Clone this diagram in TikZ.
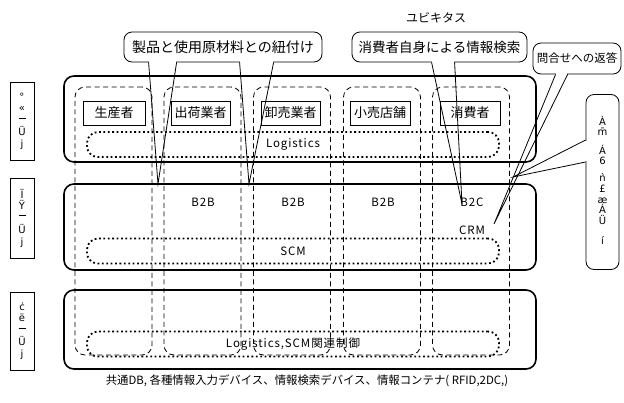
\documentclass[tikz,border=0pt]{standalone}
\usepackage{fontspec}
\setmainfont{Noto Sans CJK JP}
\newfontfamily\latf[LetterSpace=8]{Noto Sans CJK JP}
\newfontfamily\mojif{DejaVu Sans}
\tikzset{
  rowbox/.style={draw, line width=1.6pt, rounded corners=10pt, inner sep=0pt},
  colbox/.style={draw, dash pattern=on 5pt off 3.5pt, line width=0.8pt, rounded corners=10pt, inner sep=0pt, minimum width=77pt, minimum height=268pt},
  dotbox/.style={draw, line width=1.8pt, dash pattern=on 1.8pt off 2.6pt, rounded corners=11pt, inner sep=0pt, minimum width=412pt, minimum height=25pt, font=\latf\fontsize{11.5}{12}\selectfont},
  actor/.style={draw, fill=white, line width=1pt, inner sep=0pt, minimum height=24pt, font=\fontsize{13}{13}\selectfont},
  lat/.style={inner sep=0pt, font=\latf\fontsize{11.5}{12}\selectfont},
  callout/.style={draw, fill=white, line width=0.8pt, rounded corners=8pt, inner sep=0pt},
  spike/.style={line width=0.8pt},
  erase/.style={white, line width=2pt},
  lbox/.style={draw, line width=0.8pt, inner sep=0pt, minimum width=24pt, align=center, font=\mojif\fontsize{10}{11.5}\selectfont},
  moji/.style={inner sep=0pt, align=center, font=\mojif\fontsize{10}{10.5}\selectfont}
}
\begin{document}
\begin{tikzpicture}[x=1pt,y=-1pt]
\useasboundingbox (0,0) rectangle (624,402);
% rows
\node[rowbox, minimum width=472pt, minimum height=86pt] (r1) at (300,119) {};
\node[rowbox, minimum width=472pt, minimum height=86pt] (r2) at (300,227) {};
\node[rowbox, minimum width=472pt, minimum height=79pt] (r3) at (300,329.5) {};
% columns
\node[colbox] (k1) at (113.5,221) {};
\node[colbox] (k2) at (202.5,221) {};
\node[colbox] (k3) at (292,221) {};
\node[colbox] (k4) at (382,221) {};
\node[colbox] (k5) at (471,221) {};
% dotted
\node[dotbox] (logi) at (293,144.5) {Logistics};
\node[dotbox] (scm) at (293,251) {SCM};
\node[dotbox] (ctl) at (293,344) {Logistics,SCM関連制御};
% actors
\node[actor, minimum width=62pt] (a1) at (114,113) {生産者};
\node[actor, minimum width=59pt] (a2) at (200.5,113) {出荷業者};
\node[actor, minimum width=59pt] (a3) at (290.5,113) {卸売業者};
\node[actor, minimum width=60pt] (a4) at (380,113) {小売店舗};
\node[actor, minimum width=60pt] (a5) at (470,113) {消費者};
% row 2 labels
\node[lat] (b1) at (203,202) {B2B};
\node[lat] (b2) at (293,202) {B2B};
\node[lat] (b3) at (383,202) {B2B};
\node[lat] (b4) at (472,202) {B2C};
\node[lat] (crm) at (472,230) {CRM};
% left boxes
\node[lbox, minimum height=78pt] (l1) at (22,121) {°\\«\\[-5pt]\rule{7pt}{0.6pt}\\[6pt]Ü\\j};
\node[lbox, minimum height=80pt] (l2) at (22,218) {Ï\\Ÿ\\[-5pt]\rule{7pt}{0.6pt}\\[6pt]Ü\\j};
\node[lbox, minimum height=78pt] (l3) at (22,331) {ċ\\ë\\[-5pt]\rule{7pt}{0.6pt}\\[6pt]Ü\\j};
% callout 1
\node[callout, minimum width=198pt, minimum height=30pt, font=\fontsize{14}{14}\selectfont] (c1) at (223,47) {製品と使用原材料との紐付け};
\coordinate (p1) at (158,184);
\coordinate (p2) at (249,184);
\draw[erase] ([xshift=25.8pt]c1.south west) -- ([xshift=52.2pt]c1.south west);
\draw[spike] ([xshift=25pt]c1.south west) -- (p1) -- ([xshift=53pt]c1.south west);
\draw[erase] ([xshift=116.8pt]c1.south west) -- ([xshift=149.2pt]c1.south west);
\draw[spike] ([xshift=116pt]c1.south west) -- (p2) -- ([xshift=150pt]c1.south west);
% callout 2
\node[inner sep=0pt, font=\fontsize{12}{12}\selectfont] (ubi) at (436,18) {ユビキタス};
\node[callout, minimum width=175pt, minimum height=30pt, font=\fontsize{13.5}{13.5}\selectfont] (c2) at (439.5,47) {消費者自身による情報検索};
\coordinate (p3) at (462,204);
\draw[erase] ([xshift=80.8pt]c2.south west) -- ([xshift=102.2pt]c2.south west);
\draw[spike] ([xshift=80pt]c2.south west) -- (p3) -- ([xshift=103pt]c2.south west);
% callout 3
\node[callout, minimum width=88pt, minimum height=31pt, font=\fontsize{11.5}{11.5}\selectfont] (c3) at (577,58.5) {問合せへの返答};
\coordinate (p4) at (494,224);
\draw[erase] ([xshift=23.8pt]c3.south west) -- ([xshift=34.2pt]c3.south west);
\draw[spike] ([xshift=23pt]c3.south west) -- (p4) -- ([xshift=35pt]c3.south west);
% right box
\node[callout, minimum width=33pt, minimum height=175pt] (rb) at (602.5,182) {};
\coordinate (p5) at (513,177);
\draw[erase] ([yshift=41.2pt]rb.west) -- ([yshift=20.8pt]rb.west);
\draw[spike] ([yshift=42pt]rb.west) -- (p5) -- ([yshift=20pt]rb.west);
\node[moji] (m1) at (602.5,126) {À\\m̄};
\node[moji] (m2) at (602.5,155) {Á\\6};
\node[moji] (m3) at (602.5,183) {ǹ\\£};
\node[moji] (m4) at (602.5,211) {æ\\Á\\Ü};
\node[moji] (m5) at (602.5,240) {í};
% bottom
\node[inner sep=0pt, font=\fontsize{11.4}{11.4}\selectfont] (btm) at (307,381) {共通DB, 各種情報入力デバイス、情報検索デバイス、情報コンテナ( RFID,2DC,)};
\end{tikzpicture}
\end{document}
